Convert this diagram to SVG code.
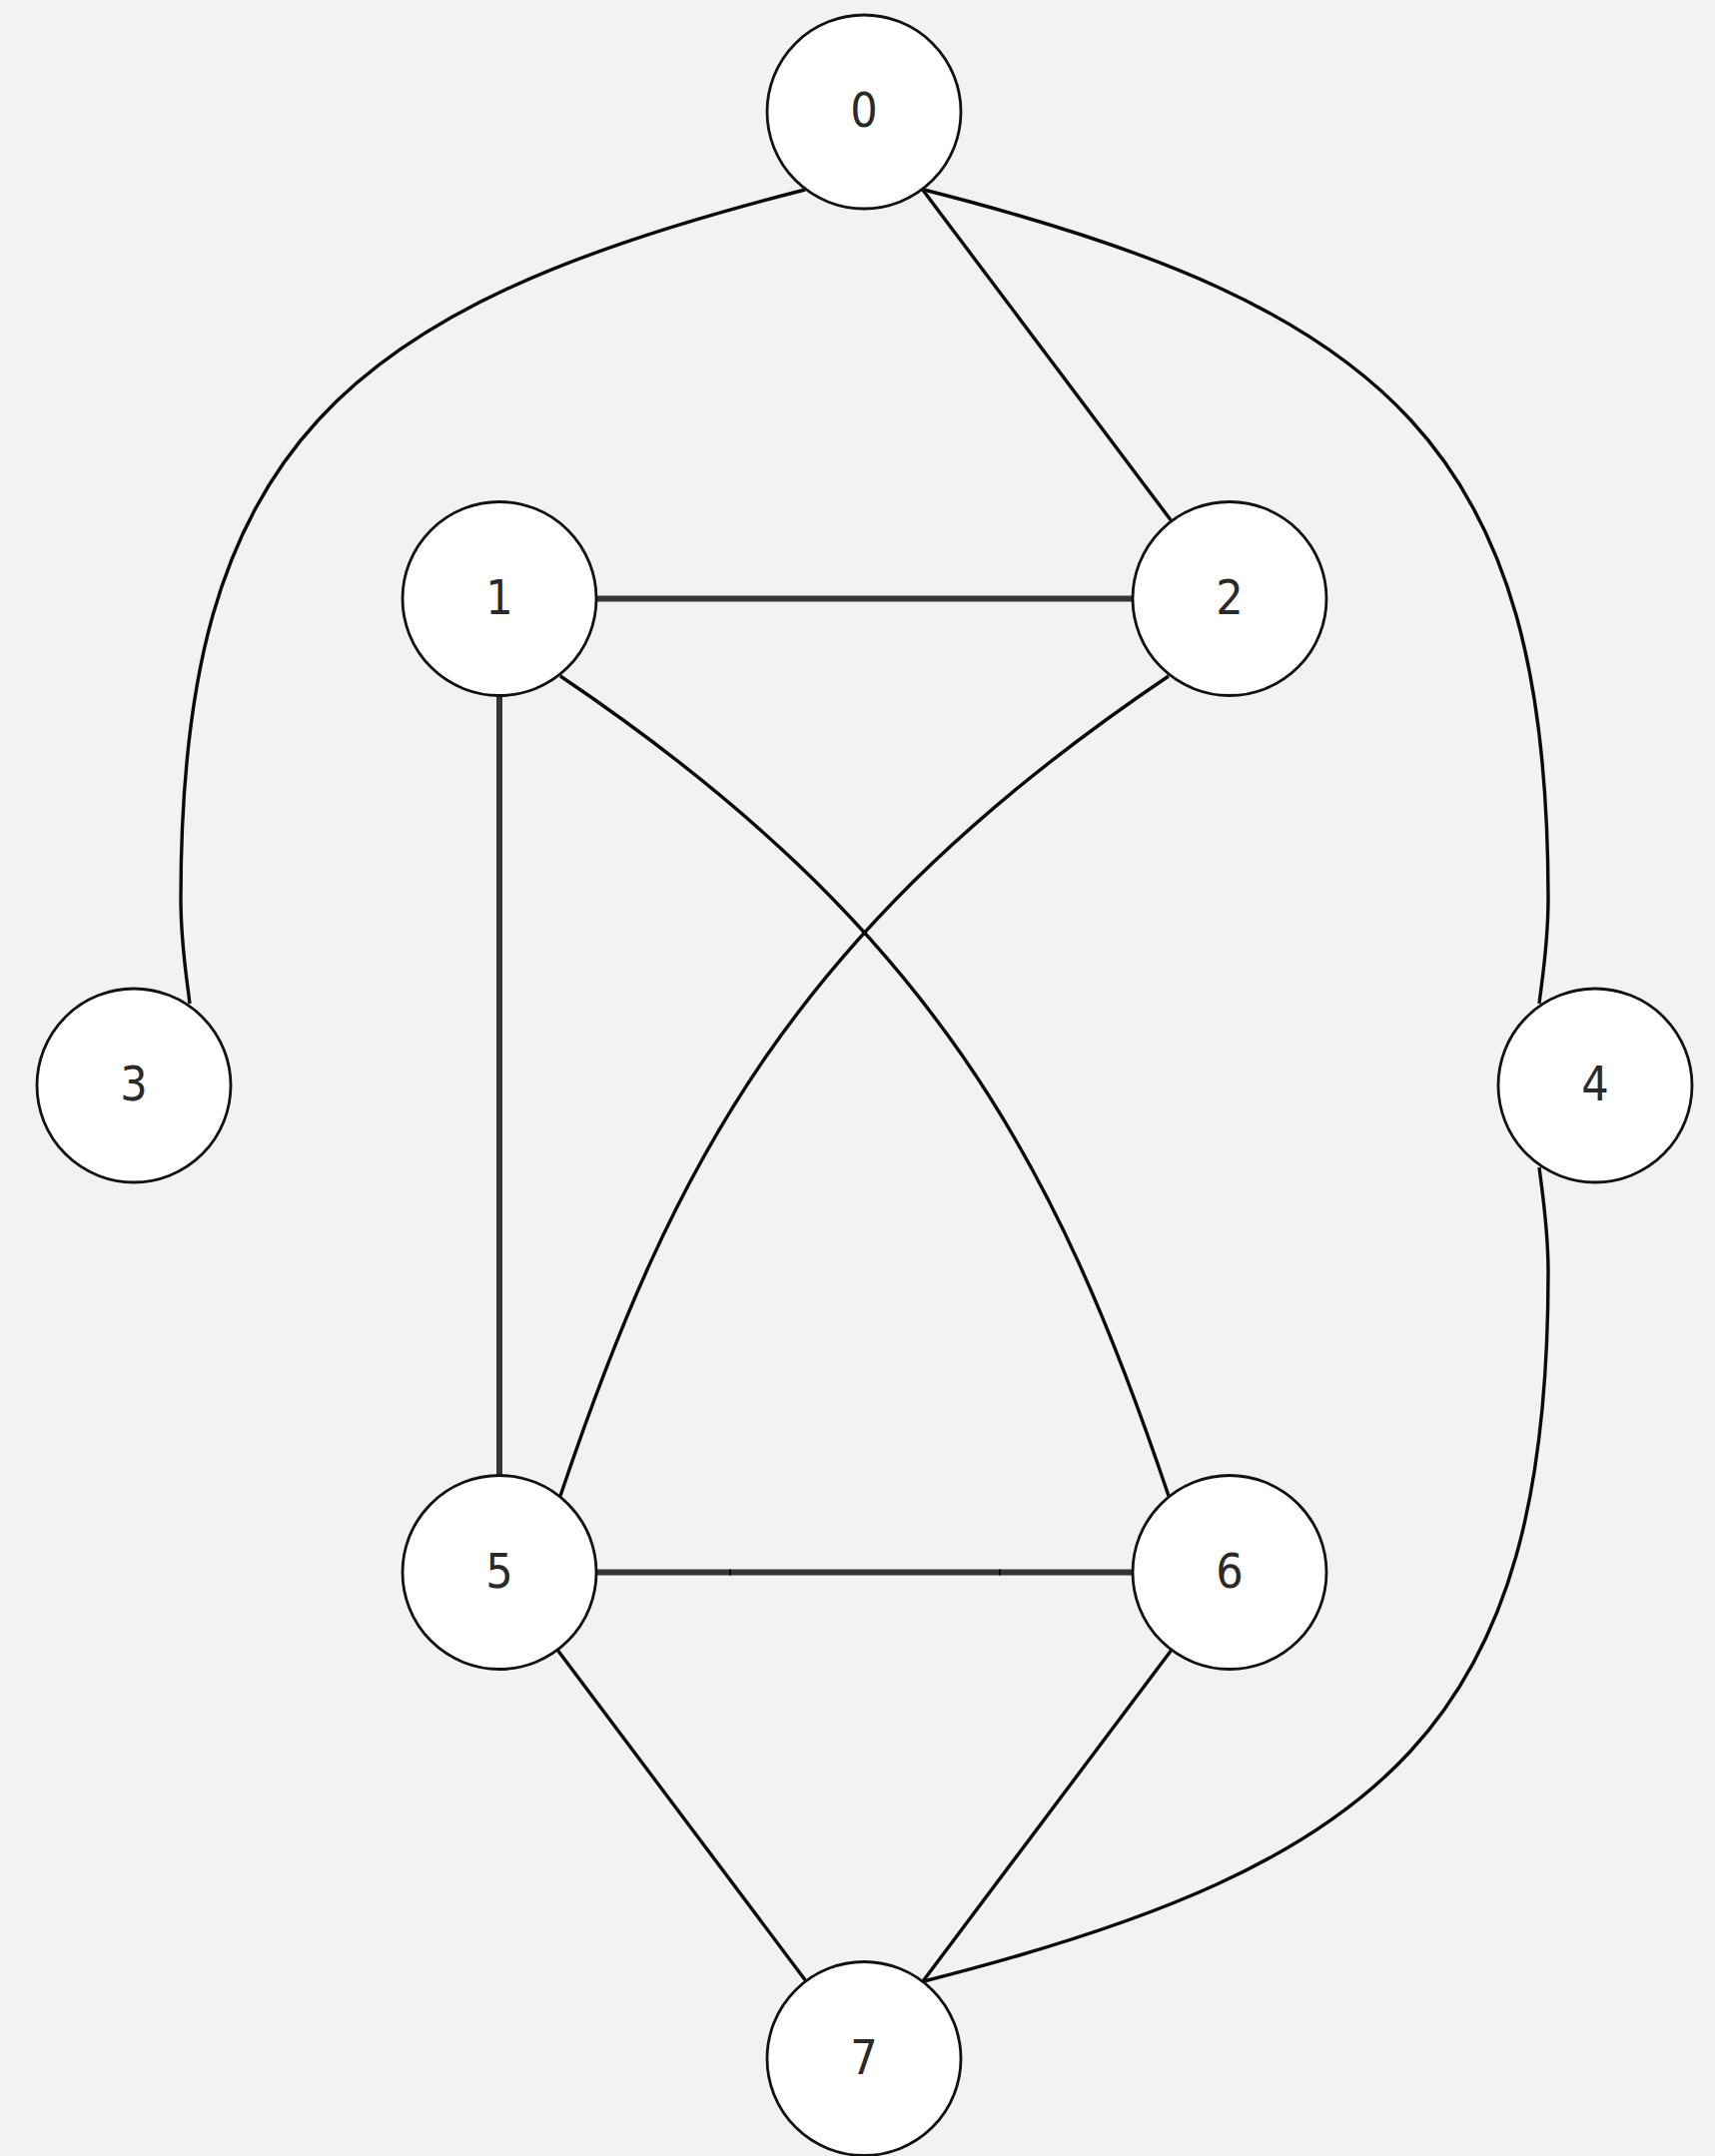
<svg xmlns="http://www.w3.org/2000/svg" width="1717" height="2159" viewBox="0 0 1717 2159">
<style>
.bg{fill:#f1f2f4}
.node circle{fill:#ffffff;stroke:#111111;stroke-width:2.8}
.node text{font-family:"DejaVu Sans Condensed","DejaVu Sans",sans-serif;font-stretch:condensed;font-size:48px;fill:#2a2a2a;text-anchor:middle}
.thin{fill:none;stroke:#0a0a0a;stroke-width:3.4}
.thick{fill:none;stroke:#000000;stroke-opacity:0.78;stroke-width:6}
</style>
<rect class="bg" x="0" y="0" width="1717" height="2159"/>
<g id="connectors">
<path class="thin" d="M 806 190 C 340 308, 181 450, 181 900 C 181 945, 187 980, 190 1005"/>
<path class="thin" d="M 925 190 C 1391 308, 1550 450, 1550 900 C 1550 945, 1544 980, 1541 1005"/>
<path class="thin" d="M 1541 1169 C 1544 1194, 1550 1229, 1550 1274 C 1550 1724, 1391 1866, 925 1984"/>
<line class="thin" x1="923" y1="189" x2="1173" y2="522"/>
<line class="thick" x1="597" y1="599.5" x2="1134" y2="599.5"/>
<line class="thick" x1="500" y1="696" x2="500" y2="1478"/>
<path class="thin" d="M 561 677 C 934.5 929, 1058 1165.5, 1170 1498"/>
<path class="thin" d="M 1170 677 C 796.5 929, 673 1165.5, 561 1498"/>
<line class="thick" x1="597" y1="1574.5" x2="732" y2="1574.5"/>
<line class="thick" x1="730" y1="1574.5" x2="1002" y2="1574.5"/>
<line class="thick" x1="1000" y1="1574.5" x2="1134" y2="1574.5"/>
<line class="thin" x1="558" y1="1652" x2="807" y2="1984"/>
<line class="thin" x1="1173" y1="1652" x2="924" y2="1984"/>
</g>
<g id="node0" class="node"><circle cx="865" cy="112" r="97"/><text x="865" y="127">0</text></g>
<g id="node1" class="node"><circle cx="500" cy="599.5" r="97"/><text x="500" y="614.5">1</text></g>
<g id="node2" class="node"><circle cx="1231" cy="599.5" r="97"/><text x="1231" y="614.5">2</text></g>
<g id="node3" class="node"><circle cx="134" cy="1087" r="97"/><text x="134" y="1102">3</text></g>
<g id="node4" class="node"><circle cx="1597" cy="1087" r="97"/><text x="1597" y="1102">4</text></g>
<g id="node5" class="node"><circle cx="500" cy="1574.5" r="97"/><text x="500" y="1589.5">5</text></g>
<g id="node6" class="node"><circle cx="1231" cy="1574.5" r="97"/><text x="1231" y="1589.5">6</text></g>
<g id="node7" class="node"><circle cx="865" cy="2061.5" r="97"/><text x="865" y="2076.5">7</text></g>
</svg>
